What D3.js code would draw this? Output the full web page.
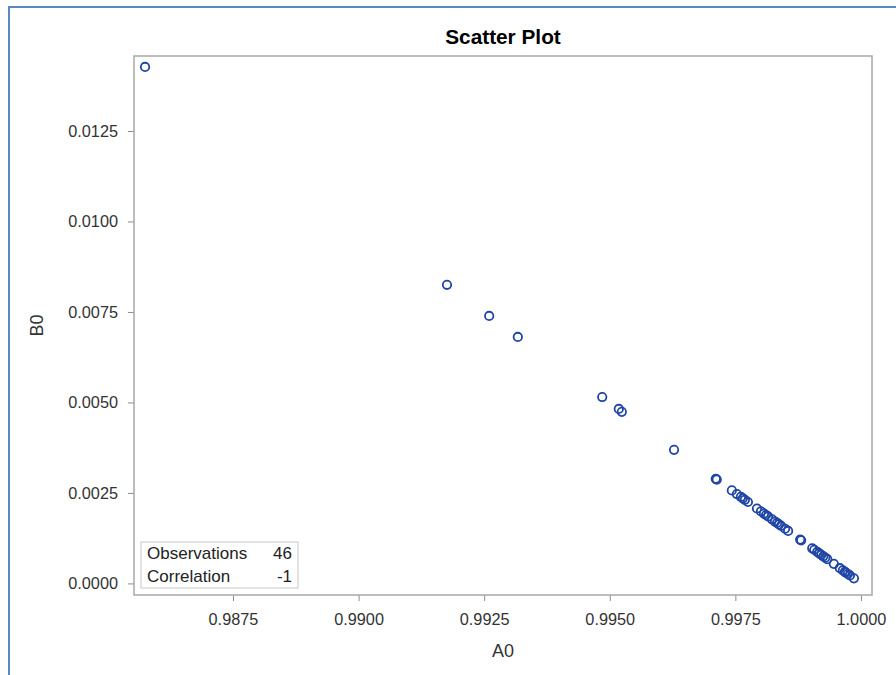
<!DOCTYPE html>
<html>
<head>
<meta charset="utf-8">
<script src="https://cdn.jsdelivr.net/npm/d3@7"></script>
<style>
  html, body { margin: 0; padding: 0; background: #fff; }
  svg { display: block; font-family: "Liberation Sans", Arial, sans-serif; }
</style>
</head>
<body>
<svg id="chart" width="896" height="675"></svg>
<script>
// A0 / B0 pairs, 46 observations
const a0 = [
  0.98575, 0.99176, 0.99260, 0.99317, 0.99485, 0.99518, 0.99524, 0.99628,
  0.99711, 0.99713, 0.99743, 0.99753, 0.99761, 0.99765, 0.99769, 0.99775,
  0.99793, 0.99801, 0.99807, 0.99811, 0.99815, 0.99823, 0.99829, 0.99833,
  0.99837, 0.99841, 0.99849, 0.99855, 0.99879, 0.99881, 0.99903, 0.99907,
  0.99913, 0.99917, 0.99921, 0.99925, 0.99929, 0.99933, 0.99946, 0.99958,
  0.99964, 0.99968, 0.99970, 0.99974, 0.99978, 0.99986
];
const b0 = [
  0.01427, 0.00825, 0.00739, 0.00681, 0.00515, 0.00482, 0.00474, 0.00369,
  0.00289, 0.00287, 0.00257, 0.00247, 0.00239, 0.00235, 0.00231, 0.00225,
  0.00207, 0.00199, 0.00193, 0.00189, 0.00185, 0.00177, 0.00171, 0.00167,
  0.00163, 0.00159, 0.00151, 0.00145, 0.00121, 0.00119, 0.00097, 0.00093,
  0.00087, 0.00083, 0.00079, 0.00075, 0.00071, 0.00067, 0.00054, 0.00042,
  0.00036, 0.00032, 0.00030, 0.00026, 0.00022, 0.00014
];
const xTicks = [0.9875, 0.9900, 0.9925, 0.9950, 0.9975, 1.0000];
const yTicks = [0.0000, 0.0025, 0.0050, 0.0075, 0.0100, 0.0125];
const statLabels = ["Observations", "Correlation"];
const statValues = ["46", "-1"];

const svg = d3.select("#chart");
const plot = { left: 134, top: 56, right: 872, bottom: 595 };

const x = d3.scaleLinear().domain([0.98553, 1.00022]).range([plot.left, plot.right]);
const y = d3.scaleLinear().domain([-0.00032, 0.014572]).range([plot.bottom, plot.top]);

// outer page border
svg.append("rect")
  .attr("x", 9).attr("y", 7).attr("width", 900).attr("height", 700)
  .attr("fill", "none").attr("stroke", "#5b85c4").attr("stroke-width", 2);

// title
svg.append("text")
  .attr("x", (plot.left + plot.right) / 2).attr("y", 43.5)
  .attr("text-anchor", "middle")
  .attr("font-size", 20.8).attr("font-weight", "bold").attr("fill", "#000")
  .text("Scatter Plot");

// axes
const fmt = d3.format(".4f");
const xAxis = svg.append("g")
  .attr("transform", `translate(0,${plot.bottom})`)
  .call(d3.axisBottom(x).tickValues(xTicks).tickFormat(fmt).tickSizeOuter(0).tickSize(6).tickPadding(12));
const yAxis = svg.append("g")
  .attr("transform", `translate(${plot.left},0)`)
  .call(d3.axisLeft(y).tickValues(yTicks).tickFormat(fmt).tickSizeOuter(0).tickSize(6).tickPadding(10));

[xAxis, yAxis].forEach(g => {
  g.select(".domain").remove();
  g.selectAll(".tick line").attr("stroke", "#8c8c8c").attr("stroke-width", 1);
  g.selectAll(".tick text")
    .attr("font-size", 16.3).attr("fill", "#333")
    .attr("font-family", "'Liberation Sans', Arial, sans-serif");
});

// axis labels
svg.append("text")
  .attr("x", (plot.left + plot.right) / 2).attr("y", 657)
  .attr("text-anchor", "middle").attr("font-size", 18).attr("fill", "#333")
  .text("A0");
svg.append("text")
  .attr("transform", `translate(43,${(plot.top + plot.bottom) / 2}) rotate(-90)`)
  .attr("text-anchor", "middle").attr("font-size", 18).attr("fill", "#333")
  .text("B0");

// plot frame
svg.append("rect")
  .attr("x", plot.left).attr("y", plot.top)
  .attr("width", plot.right - plot.left).attr("height", plot.bottom - plot.top)
  .attr("fill", "none").attr("stroke", "#a8a8a8").attr("stroke-width", 1.5);

// markers
svg.append("g").selectAll("circle")
  .data(d3.range(a0.length))
  .join("circle")
  .attr("cx", i => x(a0[i]))
  .attr("cy", i => y(b0[i]))
  .attr("r", 4.2)
  .attr("fill", "none")
  .attr("stroke", "#1f45a5")
  .attr("stroke-width", 1.8);

// statistics inset
const inset = svg.append("g");
inset.append("rect")
  .attr("x", 141).attr("y", 542).attr("width", 157).attr("height", 46)
  .attr("fill", "#fff").attr("stroke", "#c8c8c8").attr("stroke-width", 1);
statLabels.forEach((lab, i) => {
  inset.append("text")
    .attr("x", 147).attr("y", 559 + i * 23)
    .attr("font-size", 17).attr("fill", "#222")
    .text(lab);
  inset.append("text")
    .attr("x", 292).attr("y", 559 + i * 23)
    .attr("text-anchor", "end")
    .attr("font-size", 17).attr("fill", "#222")
    .text(statValues[i]);
});
</script>
</body>
</html>
